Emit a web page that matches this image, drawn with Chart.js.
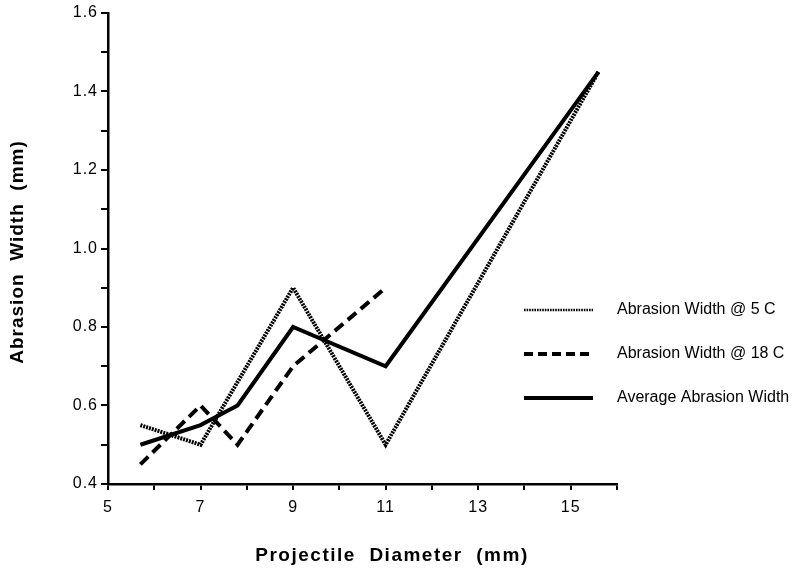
<!DOCTYPE html>
<html>
<head>
<meta charset="utf-8">
<script src="https://cdn.jsdelivr.net/npm/chart.js@4"></script>
<style>
  html, body { margin: 0; padding: 0; background: #fff; }
  #wrap { width: 800px; height: 577px; }
</style>
</head>
<body>
<div id="wrap"><canvas id="chart" width="800" height="577"></canvas></div>
<script>
// ── Data ──────────────────────────────────────────────────────────────────────
const DIAMETERS = [5.7, 7.0, 7.8, 9.0, 11.0, 15.6];
const WIDTH_5C  = [0.55, 0.50, null, 0.90, 0.50, 1.45];
const WIDTH_18C = [0.45, 0.60, 0.50, 0.70, 0.90, null];
const WIDTH_AVG = [0.50, 0.55, 0.60, 0.80, 0.70, 1.45];

const SERIES_LABELS = ['Abrasion Width @ 5 C', 'Abrasion Width @ 18 C', 'Average Abrasion Width'];
const X_TITLE = 'Projectile  Diameter  (mm)';
const Y_TITLE = 'Abrasion  Width  (mm)';

const FONT = '"Liberation Sans", Arial, Helvetica, sans-serif';

// pair diameters with a series, dropping the gaps
const points = ys => DIAMETERS.map((x, i) => ({ x, y: ys[i] })).filter(p => p.y !== null);

// ── Plugins: tracking, legend on the right, axis titles ───────────────────────
const tracking = {
  id: 'tracking',
  beforeDraw(chart) { chart.ctx.letterSpacing = '1px'; },
};

const sideLegend = {
  id: 'sideLegend',
  afterDraw(chart) {
    const ctx = chart.ctx;
    const rows = [310, 354, 398];
    chart.data.datasets.forEach((ds, i) => {
      const y = rows[i];
      ctx.save();
      ctx.strokeStyle = ds.borderColor;
      ctx.lineWidth = ds.legendWidth;
      ctx.setLineDash(ds.legendDash);
      ctx.beginPath();
      ctx.moveTo(524, y);
      ctx.lineTo(593, y);
      ctx.stroke();
      ctx.restore();
      ctx.save();
      ctx.fillStyle = '#000';
      ctx.letterSpacing = '0px';
      ctx.font = '16px ' + FONT;
      ctx.textBaseline = 'middle';
      ctx.fillText(ds.label, 617, y);
      ctx.restore();
    });
  },
};

const axisTitles = {
  id: 'axisTitles',
  afterDraw(chart) {
    const ctx = chart.ctx;
    ctx.save();
    ctx.fillStyle = '#000';
    ctx.font = 'bold 19px ' + FONT;
    ctx.textAlign = 'center';
    ctx.textBaseline = 'middle';
    ctx.letterSpacing = '1.5px';
    ctx.fillText(X_TITLE, 392, 556);
    ctx.translate(18, 252);
    ctx.rotate(-Math.PI / 2);
    ctx.letterSpacing = '1px';
    ctx.fillText(Y_TITLE, 0, 0);
    ctx.restore();
  },
};

// ── Chart ─────────────────────────────────────────────────────────────────────
Chart.defaults.font.family = FONT;
Chart.defaults.color = '#000';

new Chart(document.getElementById('chart'), {
  type: 'line',
  data: {
    datasets: [
      {
        label: SERIES_LABELS[0], data: points(WIDTH_5C),
        borderColor: '#000', borderWidth: 4, borderDash: [2, 1],
        legendWidth: 2.5, legendDash: [1.6, 1],
      },
      {
        label: SERIES_LABELS[1], data: points(WIDTH_18C),
        borderColor: '#000', borderWidth: 4, borderDash: [11, 6],
        legendWidth: 4, legendDash: [9, 5],
      },
      {
        label: SERIES_LABELS[2], data: points(WIDTH_AVG),
        borderColor: '#000', borderWidth: 4, borderDash: [],
        legendWidth: 4, legendDash: [],
      },
    ],
  },
  options: {
    responsive: false,
    animation: false,
    layout: { padding: { top: 13, right: 183, left: 0, bottom: 0 } },
    elements: { point: { radius: 0 }, line: { tension: 0, borderJoinStyle: 'miter', borderCapStyle: 'butt' } },
    plugins: { legend: { display: false }, tooltip: { enabled: false } },
    scales: {
      x: {
        type: 'linear', min: 5, max: 16,
        afterFit: s => { s.height = 93; },
        border: { color: '#000', width: 2.5 },
        grid: { drawOnChartArea: false, color: '#000', lineWidth: 2, tickLength: 6 },
        ticks: {
          stepSize: 1, padding: 8, autoSkip: false, maxRotation: 0,
          font: { size: 16 },
          callback: v => (v % 2 === 1 && v <= 15) ? String(v) : '',
        },
      },
      y: {
        min: 0.4, max: 1.6,
        afterFit: s => { s.width = 108; },
        border: { color: '#000', width: 2.5 },
        grid: { drawOnChartArea: false, color: '#000', lineWidth: 2, tickLength: 7 },
        ticks: {
          stepSize: 0.1, padding: 3, autoSkip: false,
          font: { size: 16 },
          callback: v => (Math.round(v * 10) % 2 === 0) ? v.toFixed(1) : '',
        },
      },
    },
  },
  plugins: [tracking, sideLegend, axisTitles],
});
</script>
</body>
</html>
